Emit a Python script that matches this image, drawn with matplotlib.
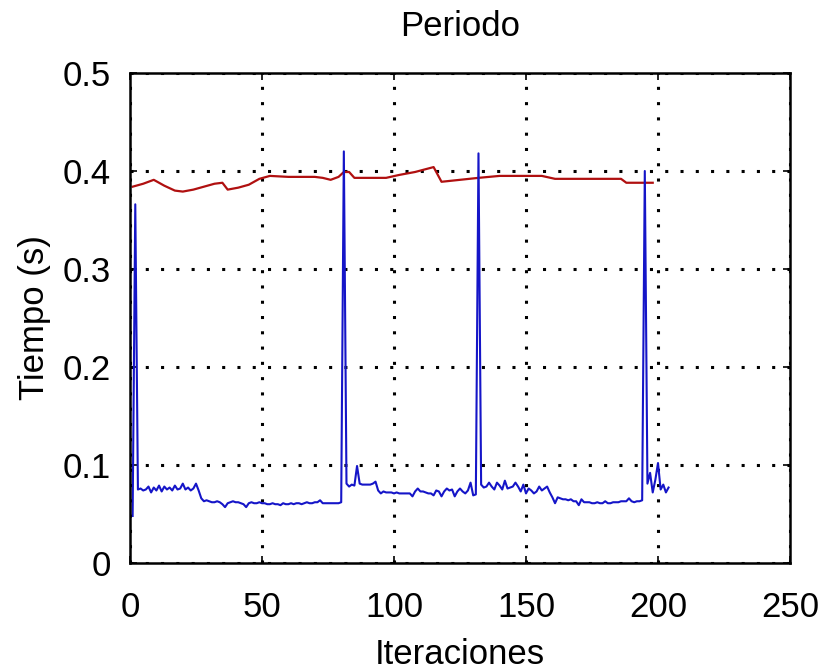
import matplotlib
matplotlib.use("Agg")
import matplotlib.pyplot as plt

plt.rcParams['font.family'] = ['Liberation Sans', 'DejaVu Sans']

# datos
iter_blue = list(range(1, 205))
t_blue = [
    0.048, 0.366, 0.075, 0.076, 0.074, 0.075, 0.078, 0.072, 0.077, 0.074,
    0.079, 0.073, 0.078, 0.075, 0.077, 0.074, 0.079, 0.075, 0.076, 0.081,
    0.075, 0.077, 0.074, 0.076, 0.081, 0.074, 0.066, 0.063, 0.064, 0.063,
    0.062, 0.062, 0.063, 0.062, 0.060, 0.057, 0.061, 0.062, 0.063, 0.062,
    0.062, 0.061, 0.060, 0.057, 0.061, 0.062, 0.061, 0.061, 0.062, 0.061,
    0.061, 0.060, 0.060, 0.061, 0.060, 0.060, 0.059, 0.061, 0.060, 0.060,
    0.061, 0.060, 0.061, 0.061, 0.060, 0.061, 0.062, 0.061, 0.061, 0.062,
    0.062, 0.064, 0.061, 0.061, 0.061, 0.061, 0.061, 0.061, 0.061, 0.062,
    0.420, 0.081, 0.078, 0.080, 0.079, 0.099, 0.081, 0.080, 0.080, 0.080,
    0.080, 0.081, 0.083, 0.074, 0.071, 0.073, 0.072, 0.072, 0.072, 0.071,
    0.072, 0.071, 0.071, 0.071, 0.071, 0.071, 0.068, 0.073, 0.076, 0.073,
    0.073, 0.072, 0.071, 0.071, 0.069, 0.074, 0.073, 0.068, 0.073, 0.076,
    0.074, 0.075, 0.068, 0.073, 0.076, 0.073, 0.071, 0.074, 0.082, 0.069,
    0.070, 0.418, 0.080, 0.077, 0.078, 0.082, 0.078, 0.075, 0.082, 0.079,
    0.075, 0.084, 0.076, 0.077, 0.078, 0.082, 0.078, 0.073, 0.080, 0.071,
    0.076, 0.074, 0.071, 0.073, 0.078, 0.074, 0.076, 0.078, 0.072, 0.067,
    0.061, 0.067, 0.066, 0.065, 0.065, 0.064, 0.065, 0.063, 0.063, 0.059,
    0.065, 0.062, 0.062, 0.062, 0.061, 0.061, 0.062, 0.061, 0.061, 0.063,
    0.061, 0.061, 0.062, 0.062, 0.062, 0.063, 0.063, 0.063, 0.066, 0.063,
    0.062, 0.063, 0.063, 0.064, 0.400, 0.081, 0.092, 0.072, 0.085, 0.102,
    0.075, 0.080, 0.072, 0.077,
]

iter_red = [1, 5, 9, 13, 17, 20, 24, 28, 32, 35, 37, 41, 45, 49, 53, 60, 70,
            73, 76, 79, 81, 83, 85, 97, 102, 108, 115, 118, 125, 132, 140,
            156, 161, 186, 188, 198]
t_red = [0.384, 0.387, 0.391, 0.385, 0.380, 0.379, 0.381, 0.384, 0.387, 0.388,
         0.381, 0.383, 0.386, 0.392, 0.395, 0.394, 0.394, 0.393, 0.391, 0.394,
         0.399, 0.399, 0.393, 0.393, 0.396, 0.399, 0.404, 0.389, 0.391, 0.393,
         0.395, 0.395, 0.392, 0.392, 0.388, 0.388]

xticks = [0, 50, 100, 150, 200, 250]
yticks = [0, 0.1, 0.2, 0.3, 0.4, 0.5]
ytick_labels = ['0', '0.1', '0.2', '0.3', '0.4', '0.5']

fig = plt.figure(figsize=(8.25, 6.7), dpi=100)
ax = fig.add_axes([130 / 825, 107 / 670, 660 / 825, 490 / 670])

ax.plot(iter_red, t_red, color='#b01010', lw=1.6)
ax.plot(iter_blue, t_blue, color='#1515c8', lw=1.5)

ax.set_xlim(0, 250)
ax.set_ylim(0, 0.5)
ax.set_xticks(xticks)
ax.set_yticks(yticks)
ax.set_yticklabels(ytick_labels)
ax.tick_params(direction='in', length=5, width=1.2, labelsize=25,
               top=True, right=True)
ax.tick_params(axis='x', pad=20)
ax.tick_params(axis='y', pad=14)

ax.grid(True, color='black', linestyle=(0, (1, 4)), linewidth=2.2)
for s in ax.spines.values():
    s.set_linewidth(1.8)

ax.set_title('Periodo', fontsize=25, pad=27)
ax.set_xlabel('Iteraciones', fontsize=25, labelpad=10)
ax.set_ylabel('Tiempo (s)', fontsize=25, labelpad=8)

fig.savefig('out.png', dpi=100, facecolor='white')
